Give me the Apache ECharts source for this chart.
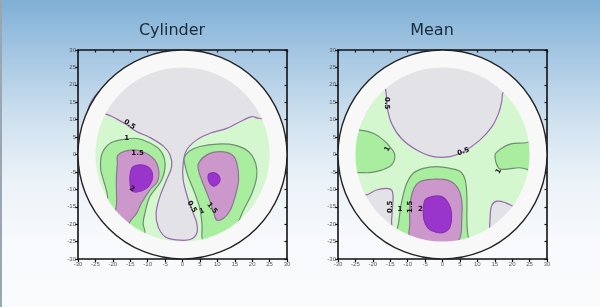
<!DOCTYPE html>
<html>
<head>
<meta charset="utf-8">
<script src="https://cdn.jsdelivr.net/npm/echarts@6/dist/echarts.min.js"></script>
<style>
html,body{margin:0;padding:0;}
#wrap{position:relative;width:600px;height:307px;overflow:hidden;
 background:linear-gradient(to bottom,#7fb0d6 0px,#a9c9e4 60px,#cfe1ef 120px,#ebf2f8 180px,#f7f9fc 240px,#fafbfd 307px);}
#edge{position:absolute;left:0;top:0;width:2px;height:307px;background:#9aa6b0;}
#chart{position:absolute;left:0;top:0;width:600px;height:307px;}
</style>
</head>
<body>
<div id="wrap"><div id="edge"></div><div id="chart"></div></div>
<script>
// ---- data ----
const titles = ['Cylinder', 'Mean'];
const axisTicks = [-30,-25,-20,-15,-10,-5,0,5,10,15,20,25,30];
const discRadius = 25;      // measured region radius
const outerRadius = 30;     // outer ring radius

// contour band polygons (data coords) — Cylinder
const cylGray = [[-27,12],[-22,11.6],[-16.6,8.9],[-13.2,6.6],[-9.4,4.9],[-5.5,2.4],[-3.6,-0.1],[-3.1,-3.5],[-4.6,-7.3],[-6.5,-12.1],[-7.6,-16.9],[-7,-20.7],[-5,-23.6],[-1.7,-24.5],[2.2,-24.4],[4.1,-22.6],[4.1,-19.8],[3.1,-16.9],[1.7,-13.1],[0.2,-7.3],[0.2,-2.5],[1.2,1.3],[4.1,4.2],[7.9,6.1],[12.7,7.5],[17.5,9.9],[19.9,10.9],[21.8,10.4],[26,10.5],[25,16],[20,21],[13,25],[5,27],[-5,27],[-13,25],[-20,21],[-25,17]];
const cylGreenL = [[-16,4.5],[-20.5,3.4],[-23,0.5],[-23.5,-4],[-22.5,-8],[-21.5,-12],[-22,-16],[-18,-21],[-12,-25],[-10.8,-22.5],[-11.3,-19.8],[-10.8,-16.9],[-9.4,-12.1],[-6,-7.3],[-5,-2.5],[-6.5,1.3],[-10,3.6],[-13,4.6]];
const cylMauveL = [[-18.5,-0.1],[-14.2,1.3],[-10.3,0.3],[-7.4,-2.5],[-7,-7.3],[-9.4,-10.2],[-11.8,-14],[-13.2,-16.9],[-15.1,-19.3],[-16,-22],[-20,-19],[-19,-15],[-19,-7.3],[-18.7,-2.5]];
const cylPurpleL = [[-14.2,-3.5],[-11.8,-3],[-9.4,-4],[-8.6,-6.4],[-9.8,-9.2],[-12.7,-10.7],[-14.6,-10.2],[-15.1,-7.3],[-14.9,-4.9]];
const cylGreenR = [[0.5,-1],[2,1],[5,2.3],[10,3],[15,2.7],[19,0.8],[21,-2.5],[21.3,-6.3],[20,-11],[17.5,-16],[15,-21],[10,-25],[6,-25],[5.6,-20],[5,-15.5],[3.5,-11],[1.5,-6],[0.7,-3]];
const cylMauveR = [[4.6,-2.5],[7,-0.1],[10.8,0.8],[14.2,-0.1],[15.6,-2.5],[16.1,-7.3],[15.1,-12.1],[13.7,-16],[11.8,-18.3],[9.8,-18.8],[8.9,-16.4],[7.4,-12.1],[5.5,-7.3],[4.6,-4.5]];
const cylPurpleR = [[7.4,-5.9],[8.9,-5.2],[10.3,-5.9],[10.8,-7.3],[9.8,-8.8],[8.7,-9],[7.7,-8]];

// contour band polygons — Mean
const meanGray = [[-17.5,21],[-16.3,18.5],[-15.9,13.7],[-14.6,8.9],[-11.8,4.6],[-7.4,1.3],[-2.6,-0.6],[2.2,-0.6],[6,0.8],[10.8,4.2],[14.2,8],[16.1,11.8],[17,15.2],[17.3,17.6],[18.5,20],[14,24],[7,27],[0,28],[-7,27],[-14,24]];
const meanGreenL = [[-27,7],[-23.8,7],[-19.9,6.1],[-17,4.2],[-15.1,2.2],[-13.7,-0.1],[-14.6,-3],[-17.5,-4.5],[-20.9,-5.2],[-24.2,-5.2],[-27,-5.5]];
const meanGreenR = [[15.1,-0.1],[17,1.8],[19.4,3],[23.3,3.3],[27,3.5],[27,-4.5],[22.2,-3.8],[18.4,-4.2],[16.2,-4]];
const meanGrayBL = [[-26,-11.5],[-21.8,-11.6],[-19,-10.2],[-16.1,-9.7],[-14.6,-10.2],[-14.2,-12.1],[-14.4,-15.9],[-14.6,-18.5],[-15,-22],[-21,-18],[-25,-14]];
const meanGrayBR = [[13.7,-17.5],[14.2,-14.5],[15.6,-13.4],[18,-13.8],[20.5,-15],[23,-16],[18,-22],[14,-23]];
const meanGreenB = [[-13.5,-24],[-12.7,-20.2],[-11.8,-14],[-10.3,-8.3],[-8.4,-5.4],[-5.5,-4],[-1.7,-3.5],[2.2,-4],[5.1,-4.9],[6.5,-7.3],[7,-12.1],[7,-17.9],[7.2,-22.6],[8,-27],[0,-28.5],[-8,-27.5]];
const meanMauveB = [[-9.6,-23],[-9.4,-20.2],[-9.4,-15],[-8.4,-10.2],[-6.5,-7.8],[-2.6,-7.1],[1.2,-7.3],[4.1,-9.2],[5.5,-13.1],[5.5,-18.8],[5,-24],[2,-27],[-4,-27],[-8,-26]];
const meanPurpleB = [[-5.5,-16],[-5,-13.1],[-3.1,-12.1],[-0.2,-12.1],[1.7,-14],[2.6,-16.9],[2.2,-20.7],[0.7,-22.2],[-1.7,-22.4],[-4.1,-21.2],[-5.3,-18.8]];

// contour labels: [text, x, y, rotationDeg]
const cylLabels = [['0.5',-15.2,8.6,-35],['1',-16,4.6,0],['1.5',-12.9,0.3,0],['2',-14.5,-9.9,-30],['0.5',2.7,-15,-60],['1',5.6,-16.3,20],['1.5',8.5,-15.4,-50]];
const meanLabels = [['0.5',-16.1,14.7,-90],['1',-15.8,1.6,60],['0.5',6,0.8,20],['1',16.1,-4.8,60],['0.5',-15.1,-15,90],['1',-12.2,-15.7,0],['1.5',-9.4,-15,90],['2',-6.3,-15.7,0]];

// ---- styles ----
const band = {
  low:   {fill:'#e3e2e7', stroke:'#9a68b0'},
  mid:   {fill:'#a8ee9e', stroke:'#6f8f74'},
  high:  {fill:'#cc98cc', stroke:'#8a7890'},
  top:   {fill:'#9a35cc', stroke:'#8a30b8'}
};
const baseFill = '#d5f7cf';

const cylRegions = [
  {pts:cylGray, s:band.low},
  {pts:cylGreenL, s:band.mid},{pts:cylGreenR, s:band.mid},
  {pts:cylMauveL, s:band.high},{pts:cylMauveR, s:band.high},
  {pts:cylPurpleL, s:band.top},{pts:cylPurpleR, s:band.top}
];
const meanRegions = [
  {pts:meanGray, s:band.low},{pts:meanGrayBL, s:band.low},{pts:meanGrayBR, s:band.low},
  {pts:meanGreenL, s:band.mid},{pts:meanGreenR, s:band.mid},{pts:meanGreenB, s:band.mid},
  {pts:meanMauveB, s:band.high},
  {pts:meanPurpleB, s:band.top}
];

const grids = [{left:78, top:50, width:209, height:209},{left:338, top:50, width:209, height:209}];
const axMin = axisTicks[0], axMax = axisTicks[axisTicks.length-1], axStep = axisTicks[1]-axisTicks[0];

function axis(gi, pos, labels){
  return {gridIndex:gi, type:'value', position:pos, min:axMin, max:axMax, interval:axStep,
    axisLine:{show:true, onZero:false, lineStyle:{color:'#111', width:1.6}},
    axisTick:{show:true, inside:!labels, length:labels?3:2.5, lineStyle:{color:'#111', width:1.2}},
    axisLabel:{show:labels, fontSize:6, color:'#555', margin:2, fontFamily:'Liberation Sans'},
    splitLine:{show:false}};
}
const xAxes = [], yAxes = [];
grids.forEach((g,gi)=>{
  xAxes.push(axis(gi,'bottom',true)); xAxes.push(axis(gi,'top',false));
  yAxes.push(axis(gi,'left',true)); yAxes.push(axis(gi,'right',false));
});

const series = [];
[cylRegions, meanRegions].forEach((regions, gi)=>{
  const labels = gi===0 ? cylLabels : meanLabels;
  const ax = gi*2;
  series.push({type:'custom', xAxisIndex:ax, yAxisIndex:ax, z:1, silent:true, data:[[0,0]],
    renderItem:(p,api)=>{const c=api.coord([0,0]); const r=api.size([outerRadius,outerRadius])[0];
      return {type:'circle', shape:{cx:c[0],cy:c[1],r:r}, style:{fill:baseFill}};}});
  series.push({type:'custom', xAxisIndex:ax, yAxisIndex:ax, z:2, silent:true,
    data: regions.map((r,i)=>[r.pts[0][0], r.pts[0][1], i]),
    renderItem:(p,api)=>{const r=regions[p.dataIndex];
      return {type:'polygon', shape:{points:r.pts.map(q=>api.coord(q)), smooth:0.35},
        style:{fill:r.s.fill, stroke:r.s.stroke, lineWidth:1.2}};}});
  series.push({type:'custom', xAxisIndex:ax, yAxisIndex:ax, z:3, silent:true, data:[[0,0]],
    renderItem:(p,api)=>{const c=api.coord([0,0]); const r=api.size([outerRadius,outerRadius])[0];
      const r0=api.size([discRadius,discRadius])[0];
      return {type:'group', children:[
        {type:'ring', shape:{cx:c[0],cy:c[1],r:r,r0:r0}, style:{fill:'#f8f8f8'}},
        {type:'circle', shape:{cx:c[0],cy:c[1],r:r}, style:{fill:null, stroke:'#222', lineWidth:1.4}}
      ]};}});
  series.push({type:'custom', xAxisIndex:ax, yAxisIndex:ax, z:4, silent:true,
    data: labels.map(l=>[l[1],l[2]]),
    renderItem:(p,api)=>{const l=labels[p.dataIndex]; const c=api.coord([l[1],l[2]]);
      return {type:'text', x:c[0], y:c[1], rotation:l[3]*Math.PI/180,
        style:{text:l[0], fontSize:7, fontWeight:'bold', fill:'#111', align:'center', verticalAlign:'middle', fontFamily:'DejaVu Sans'}};}});
});

const chart = echarts.init(document.getElementById('chart'), null, {renderer:'canvas'});
chart.setOption({
  animation:false,
  backgroundColor:'transparent',
  grid:grids,
  xAxis:xAxes,
  yAxis:yAxes,
  graphic:[
    {type:'text', x:172, y:31, style:{text:titles[0], font:'16px "DejaVu Sans"', fill:'#1b2a3a', align:'center', verticalAlign:'middle'}},
    {type:'text', x:432, y:31, style:{text:titles[1], font:'16px "DejaVu Sans"', fill:'#1b2a3a', align:'center', verticalAlign:'middle'}}
  ],
  series:series
});
</script>
</body>
</html>
